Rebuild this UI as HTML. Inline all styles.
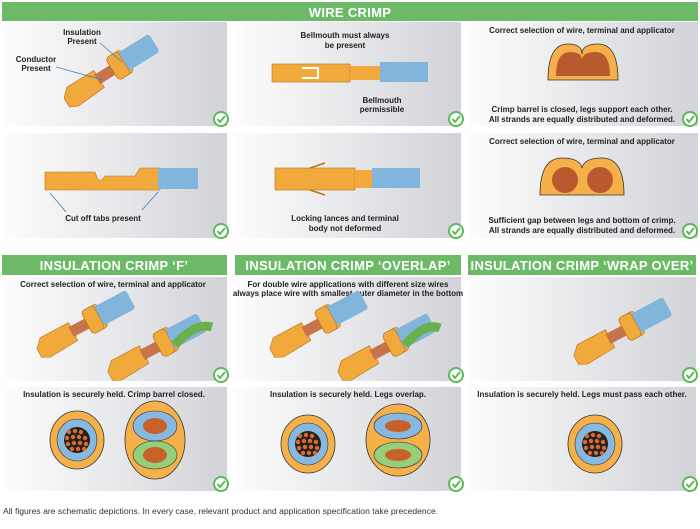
<!DOCTYPE html>
<html><head><meta charset="utf-8"><style>
body{margin:0;background:#fff;}
svg{display:block;font-family:"Liberation Sans",sans-serif;}
.h{fill:#fff;font-weight:bold;font-size:13px;letter-spacing:0.3px}
.t{font-size:8px;font-weight:bold;fill:#222}
</style></head><body>
<svg width="700" height="529" viewBox="0 0 700 529">
<defs>
<linearGradient id="g" x1="0" x2="1" y1="0" y2="0"><stop offset="0" stop-color="#fdfdfd"/><stop offset="1" stop-color="#d2d3d8"/></linearGradient>
<g id="ck"><circle r="7" fill="#fff" stroke="#5db85a" stroke-width="2"/><path d="M-3.5 0 L-1 3 L4 -3" fill="none" stroke="#5db85a" stroke-width="2"/></g>
<g id="term"><path d="M0 4 L8 -4 L40 -4 L40 16 L8 18 L0 14 Z" fill="#f2a93b" stroke="#b87318" stroke-width="0.6"/><rect x="38" y="0" width="20" height="11" fill="#c7744a"/><rect x="56" y="-8" width="18" height="26" rx="4" fill="#f2a93b" stroke="#b87318" stroke-width="0.6"/><rect x="66" y="-6" width="40" height="21" rx="3" fill="#82b5dc"/><rect x="56" y="-8" width="14" height="26" rx="4" fill="#f2a93b" stroke="#b87318" stroke-width="0.6"/></g>
<g id="cs"><ellipse rx="27" ry="29" fill="#f5b04a" stroke="#333" stroke-width="0.8"/><ellipse rx="20" ry="21" fill="#86b8e0" stroke="#333" stroke-width="0.6"/><circle r="13" fill="#222"/>
<g fill="#e2672a"><circle cx="-8" cy="-8" r="2.2"/><circle cx="-2" cy="-9" r="2.2"/><circle cx="4" cy="-8" r="2.2"/><circle cx="-10" cy="-2" r="2.2"/><circle cx="-4" cy="-3" r="2.2"/><circle cx="2" cy="-3" r="2.2"/><circle cx="8" cy="-2" r="2.2"/><circle cx="-9" cy="4" r="2.2"/><circle cx="-3" cy="3" r="2.2"/><circle cx="3" cy="3" r="2.2"/><circle cx="9" cy="4" r="2.2"/><circle cx="-5" cy="9" r="2.2"/><circle cx="1" cy="9" r="2.2"/><circle cx="7" cy="9" r="2.2"/></g></g>
</defs>
<rect x="2" y="2" width="696" height="19" fill="#6cba68"/>
<text class="h" x="350" y="17" text-anchor="middle">WIRE CRIMP</text>
<rect x="5" y="22" width="222" height="104" fill="url(#g)"/>
<rect x="233" y="22" width="228" height="104" fill="url(#g)"/>
<rect x="467" y="22" width="231" height="104" fill="url(#g)"/>
<rect x="5" y="133" width="222" height="105" fill="url(#g)"/>
<rect x="233" y="133" width="228" height="105" fill="url(#g)"/>
<rect x="467" y="133" width="231" height="105" fill="url(#g)"/>
<text class="t" x="82" y="35" text-anchor="middle">Insulation</text><text class="t" x="82" y="44" text-anchor="middle">Present</text>
<text class="t" x="36" y="62" text-anchor="middle">Conductor</text><text class="t" x="36" y="71" text-anchor="middle">Present</text>
<g transform="translate(62,95) rotate(-32)"><use href="#term"/></g>
<line x1="100" y1="43" x2="122" y2="62" stroke="#3a7fbf" stroke-width="0.8"/>
<line x1="56" y1="67" x2="103" y2="80" stroke="#3a7fbf" stroke-width="0.8"/>
<use href="#ck" x="221" y="119"/>
<text class="t" x="345" y="38" text-anchor="middle">Bellmouth must always</text><text class="t" x="345" y="48" text-anchor="middle">be present</text>
<rect x="272" y="64" width="78" height="18" fill="#f2a93b" stroke="#b87318" stroke-width="0.6"/><path d="M302 68 H318 V78 H302" fill="none" stroke="#fff" stroke-width="2"/>
<rect x="350" y="66" width="30" height="14" fill="#f2a93b"/><rect x="380" y="62" width="48" height="20" fill="#82b5dc"/>
<text class="t" x="382" y="103" text-anchor="middle">Bellmouth</text><text class="t" x="382" y="112" text-anchor="middle">permissible</text>
<use href="#ck" x="456" y="119"/>
<text class="t" x="582" y="33" text-anchor="middle">Correct selection of wire, terminal and applicator</text>
<path d="M548 80 Q548 44 568 44 Q582 44 582 54 Q582 44 598 44 Q618 44 618 80 Z" fill="#f5b04a" stroke="#333" stroke-width="0.8"/><path d="M556 76 Q556 52 570 52 Q582 52 582 60 Q582 52 596 52 Q610 52 610 76 Z" fill="#b85a2e"/>
<text class="t" x="582" y="112" text-anchor="middle">Crimp barrel is closed, legs support each other.</text>
<text class="t" x="582" y="122" text-anchor="middle">All strands are equally distributed and deformed.</text>
<use href="#ck" x="690" y="119"/>
<path d="M45 172 H95 L98 180 L102 180 L105 176 H135 L140 168 H160 V190 H45 Z" fill="#f2a93b" stroke="#b87318" stroke-width="0.6"/>
<rect x="158" y="168" width="40" height="21" fill="#82b5dc"/>
<line x1="50" y1="193" x2="66" y2="212" stroke="#3a7fbf" stroke-width="0.8"/><line x1="158" y1="192" x2="142" y2="210" stroke="#3a7fbf" stroke-width="0.8"/>
<text class="t" x="103" y="221" text-anchor="middle">Cut off tabs present</text>
<use href="#ck" x="221" y="231"/>
<rect x="275" y="168" width="80" height="22" fill="#f2a93b" stroke="#b87318" stroke-width="0.6"/><rect x="355" y="170" width="20" height="18" fill="#f2a93b"/><rect x="372" y="168" width="48" height="20" fill="#82b5dc"/>
<path d="M310 168 L325 163" stroke="#b87318" stroke-width="1.5"/><path d="M310 190 L325 195" stroke="#b87318" stroke-width="1.5"/>
<text class="t" x="345" y="221" text-anchor="middle">Locking lances and terminal</text><text class="t" x="345" y="231" text-anchor="middle">body not deformed</text>
<use href="#ck" x="456" y="231"/>
<text class="t" x="582" y="144" text-anchor="middle">Correct selection of wire, terminal and applicator</text>
<path d="M540 195 Q540 158 562 158 Q580 158 582 168 Q584 158 602 158 Q624 158 624 195 Z" fill="#f5b04a" stroke="#333" stroke-width="0.8"/><circle cx="565" cy="180" r="13" fill="#b85a2e"/><circle cx="600" cy="180" r="13" fill="#b85a2e"/>
<text class="t" x="582" y="223" text-anchor="middle">Sufficient gap between legs and bottom of crimp.</text>
<text class="t" x="582" y="233" text-anchor="middle">All strands are equally distributed and deformed.</text>
<use href="#ck" x="690" y="231"/>
<rect x="2" y="255" width="225" height="20" fill="#6cba68"/><text class="h" x="114" y="270" text-anchor="middle">INSULATION CRIMP ‘F’</text>
<rect x="235" y="255" width="226" height="20" fill="#6cba68"/><text class="h" x="348" y="270" text-anchor="middle">INSULATION CRIMP ‘OVERLAP’</text>
<rect x="468" y="255" width="228" height="20" fill="#6cba68"/><text class="h" x="582" y="270" text-anchor="middle">INSULATION CRIMP ‘WRAP OVER’</text>
<rect x="5" y="277" width="222" height="104" fill="url(#g)"/>
<rect x="233" y="277" width="228" height="104" fill="url(#g)"/>
<rect x="467" y="277" width="229" height="104" fill="url(#g)"/>
<rect x="5" y="387" width="222" height="104" fill="url(#g)"/>
<rect x="233" y="387" width="228" height="104" fill="url(#g)"/>
<rect x="467" y="387" width="229" height="104" fill="url(#g)"/>
<text class="t" x="113" y="287" text-anchor="middle">Correct selection of wire, terminal and applicator</text>
<g transform="translate(35,345) rotate(-28)"><use href="#term"/></g>
<g transform="translate(106,368) rotate(-28)"><use href="#term"/></g>
<path d="M175 345 Q195 322 212 327" stroke="#6ab04c" stroke-width="9" fill="none"/>
<use href="#ck" x="221" y="375"/>
<text class="t" x="348" y="287" text-anchor="middle">For double wire applications with different size wires</text>
<text class="t" x="348" y="296" text-anchor="middle">always place wire with smallest outer diameter in the bottom</text>
<g transform="translate(268,345) rotate(-28)"><use href="#term"/></g>
<g transform="translate(336,368) rotate(-28)"><use href="#term"/></g>
<path d="M405 345 Q425 322 440 328" stroke="#6ab04c" stroke-width="9" fill="none"/>
<use href="#ck" x="456" y="375"/>
<g transform="translate(572,352) rotate(-28)"><use href="#term"/></g>
<use href="#ck" x="690" y="375"/>
<text class="t" x="114" y="397" text-anchor="middle">Insulation is securely held. Crimp barrel closed.</text>
<use href="#cs" x="77" y="440"/>
<ellipse cx="155" cy="440" rx="30" ry="39" fill="#f5b04a" stroke="#333" stroke-width="0.8"/>
<ellipse cx="155" cy="426" rx="22" ry="15" fill="#86b8e0" stroke="#333" stroke-width="0.6"/><ellipse cx="155" cy="455" rx="22" ry="14" fill="#96cf7a" stroke="#333" stroke-width="0.6"/>
<ellipse cx="155" cy="426" rx="12" ry="8" fill="#c8602a"/><ellipse cx="155" cy="455" rx="12" ry="8" fill="#c8602a"/>
<use href="#ck" x="221" y="484"/>
<text class="t" x="348" y="397" text-anchor="middle">Insulation is securely held. Legs overlap.</text>
<use href="#cs" x="308" y="444"/>
<ellipse cx="398" cy="440" rx="32" ry="36" fill="#f5b04a" stroke="#333" stroke-width="0.8"/>
<ellipse cx="398" cy="426" rx="24" ry="13" fill="#86b8e0" stroke="#333" stroke-width="0.6"/><ellipse cx="398" cy="455" rx="24" ry="13" fill="#96cf7a" stroke="#333" stroke-width="0.6"/>
<ellipse cx="398" cy="426" rx="13" ry="6" fill="#c8602a"/><ellipse cx="398" cy="455" rx="13" ry="6" fill="#c8602a"/>
<use href="#ck" x="456" y="484"/>
<text class="t" x="582" y="397" text-anchor="middle">Insulation is securely held. Legs must pass each other.</text>
<use href="#cs" x="595" y="444"/>
<use href="#ck" x="690" y="484"/>
<text x="3" y="514" font-size="8.6" fill="#333">All figures are schematic depictions. In every case, relevant product and application specification take precedence.</text>
</svg>
</body></html>
